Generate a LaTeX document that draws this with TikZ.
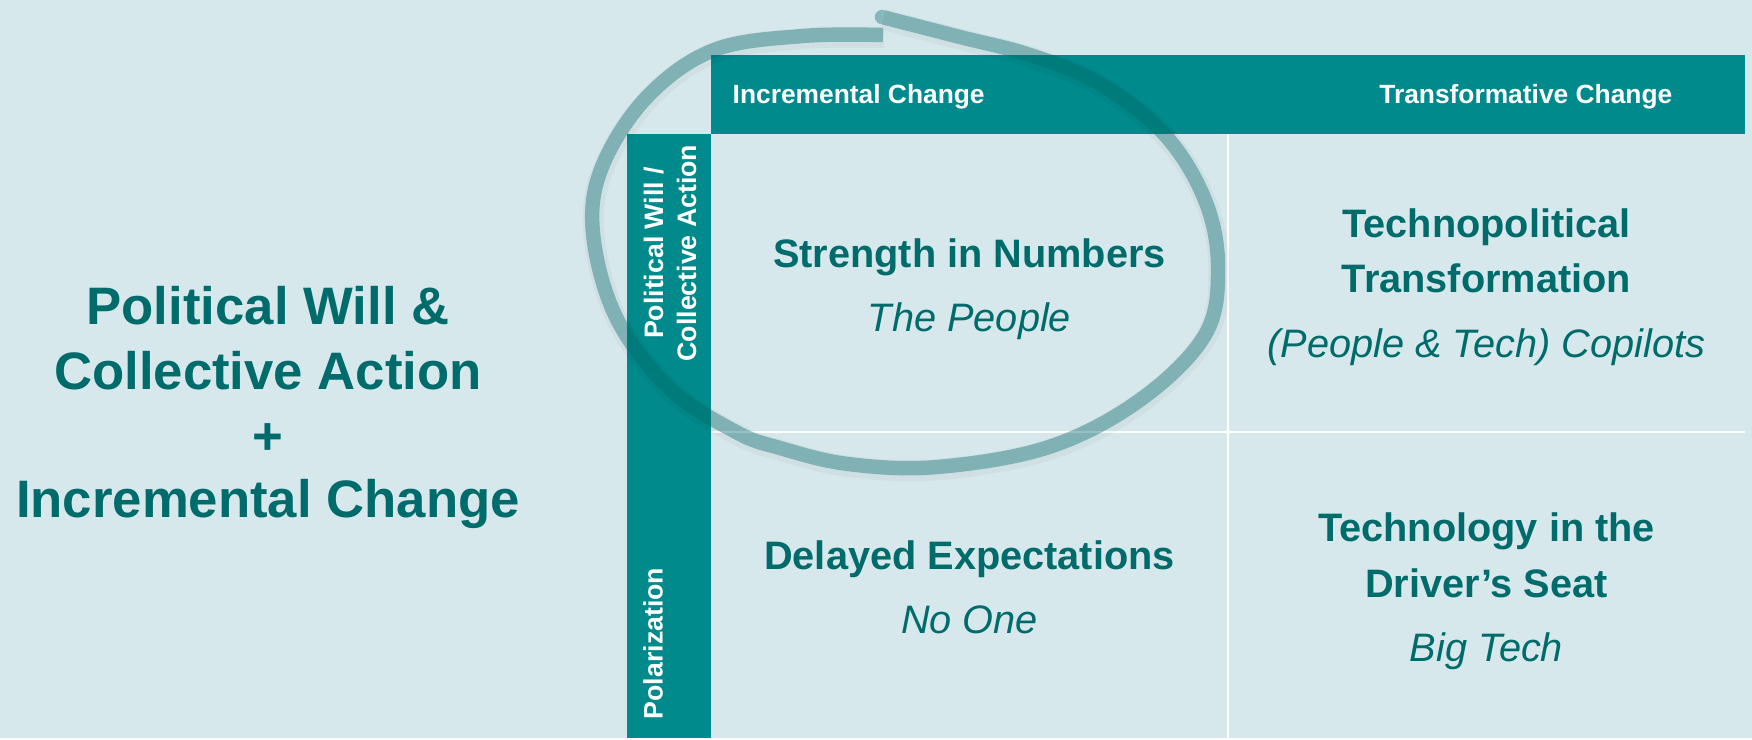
\documentclass[tikz,border=0pt]{standalone}
\usepackage{fontspec}
\setmainfont{Liberation Sans}
\definecolor{paleblue}{HTML}{D7E8EC}
\definecolor{barteal}{HTML}{008A8C}
\definecolor{darkteal}{HTML}{006B6B}
\tikzset{
  bighead/.style={font=\fontsize{15}{18}\selectfont\bfseries, text=darkteal, anchor=base, inner sep=0pt},
  colhead/.style={font=\fontsize{7.5}{9}\selectfont\bfseries, text=white, inner sep=0pt},
  barlabel/.style={font=\fontsize{7.6}{9.4}\selectfont\bfseries, text=white, rotate=90, align=center, inner sep=0pt},
  cellhead/.style={font=\fontsize{11.3}{13}\selectfont\bfseries, text=darkteal, anchor=base, inner sep=0pt},
  cellsub/.style={font=\fontsize{11.3}{13}\selectfont\itshape, text=darkteal, anchor=base, inner sep=0pt},
  gridline/.style={white, line width=0.6pt},
  loopmark/.pic={\path[pic actions] plot[smooth, tension=0.6] coordinates {
    (8.82,7.21) (9.60,7.01) (10.30,6.83) (11.00,6.54) (11.65,6.03) (12.05,5.38)
    (12.18,4.71) (12.05,4.03) (11.40,3.38) (10.49,2.91) (9.37,2.71) (8.48,2.74)
    (7.80,2.90) (7.36,3.06) (6.69,3.50) (6.16,4.21) (5.93,5.05) (6.02,5.71)
    (6.47,6.41) (7.14,6.88) (8.03,7.02) (8.83,7.03)};}
}
\begin{document}
\begin{tikzpicture}
\fill[paleblue] (0,0) rectangle (17.52,7.38);
\fill[barteal] (7.11,6.04) rectangle (17.45,6.83);
\fill[barteal] (6.27,0) rectangle (7.11,6.04);
\draw[gridline] (12.28,0) -- (12.28,6.04);
\draw[gridline] (7.11,3.06) -- (17.45,3.06);

\node[bighead] (pw) at (2.68,4.14) {Political Will \&};
\node[bighead] (ca) at (2.68,3.49) {Collective Action};
\node[bighead] (plus) at (2.68,2.84) {+};
\node[bighead] (ic) at (2.68,2.21) {Incremental Change};

\node[colhead, anchor=base west] (inc) at (7.32,6.35) {Incremental Change};
\node[colhead, anchor=base east] (trans) at (16.73,6.35) {Transformative Change};
\node[barlabel] (will) at (6.70,4.85) {Political Will /\\Collective Action};
\node[barlabel] (polar) at (6.53,0.945) {Polarization};

\node[cellhead] (sin) at (9.695,4.71) {Strength in Numbers};
\node[cellsub] (people) at (9.695,4.07) {The People};
\node[cellhead] (tp1) at (14.865,5.01) {Technopolitical};
\node[cellhead] (tp2) at (14.865,4.46) {Transformation};
\node[cellsub] (copilots) at (14.865,3.81) {(People \& Tech) Copilots};
\node[cellhead] (de) at (9.695,1.69) {Delayed Expectations};
\node[cellsub] (noone) at (9.695,1.05) {No One};
\node[cellhead] (td1) at (14.865,1.97) {Technology in the};
\node[cellhead] (td2) at (14.865,1.41) {Driver’s Seat};
\node[cellsub] (bigtech) at (14.865,0.77) {Big Tech};

\pic[draw=black, opacity=0.035, line width=6pt, shift={(0.01,-0.025)}] {loopmark};
\begin{scope}[transparency group, opacity=0.38]
\pic[draw=darkteal, line width=4.1pt] {loopmark};
\fill[darkteal] (8.82,7.21) ++(75.6:2.05pt) arc[start angle=75.6, end angle=255.6, radius=2.05pt] -- cycle;
\end{scope}
\end{tikzpicture}
\end{document}
